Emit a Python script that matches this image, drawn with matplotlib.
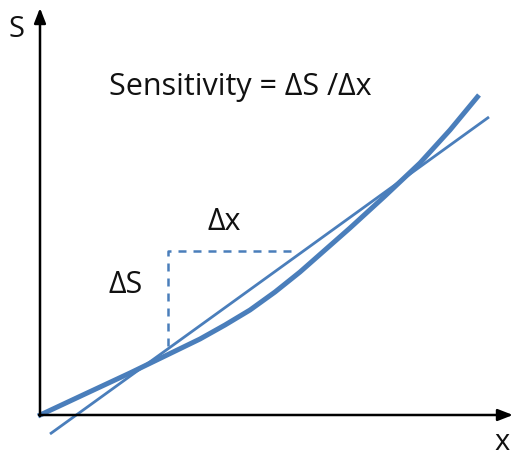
import matplotlib
matplotlib.use("Agg")
import matplotlib.pyplot as plt

# Values (pixel-like diagram units, y grows downward)
curve_x = [38, 85, 130, 165, 200, 225, 250, 275, 300, 325, 350, 385, 420, 450, 479]
curve_y = [416, 394, 373, 356, 339, 325, 310, 292, 272, 250, 228, 196, 163, 130, 95]
secant_x = [50, 489]
secant_y = [434, 117]
dash_x = [168, 168, 298]
dash_y = [346, 251, 251]

axis_origin = (40, 415)
axis_top = 8
axis_right = 513

labels = {
    "title": ("Sensitivity = ΔS /Δx", 240, 95, 22),
    "S": ("S", 16, 37, 21),
    "x": ("x", 502, 450, 21),
    "dS": ("ΔS", 126, 293, 22),
    "dx": ("Δx", 224, 230, 22),
}

blue = "#4A7EBB"

fig = plt.figure(figsize=(5.15, 4.57), dpi=100)
ax = fig.add_axes([0, 0, 1, 1])
ax.set_xlim(0, 515)
ax.set_ylim(457, 0)
ax.axis("off")

# axes with arrows
ax.annotate("", xy=(axis_origin[0], axis_top), xytext=(axis_origin[0], axis_origin[1] + 1),
            arrowprops=dict(arrowstyle="-|>,head_length=0.9,head_width=0.35", color="black", lw=1.8,
                            shrinkA=0, shrinkB=0))
ax.annotate("", xy=(axis_right, axis_origin[1]), xytext=(axis_origin[0] - 1, axis_origin[1]),
            arrowprops=dict(arrowstyle="-|>,head_length=0.9,head_width=0.35", color="black", lw=1.8,
                            shrinkA=0, shrinkB=0))

ax.plot(curve_x, curve_y, color=blue, lw=3.6, solid_capstyle="butt", solid_joinstyle="round")
ax.plot(secant_x, secant_y, color=blue, lw=2.0, solid_capstyle="butt")
ax.plot(dash_x, dash_y, color=blue, lw=1.8, dashes=(3.2, 2.8))

font = "Open Sans"
for k, (t, x, y, fs) in labels.items():
    ax.text(x, y, t, fontsize=fs, family=font, ha="center", va="baseline", color="#111111")

fig.savefig("out.png", dpi=100)
